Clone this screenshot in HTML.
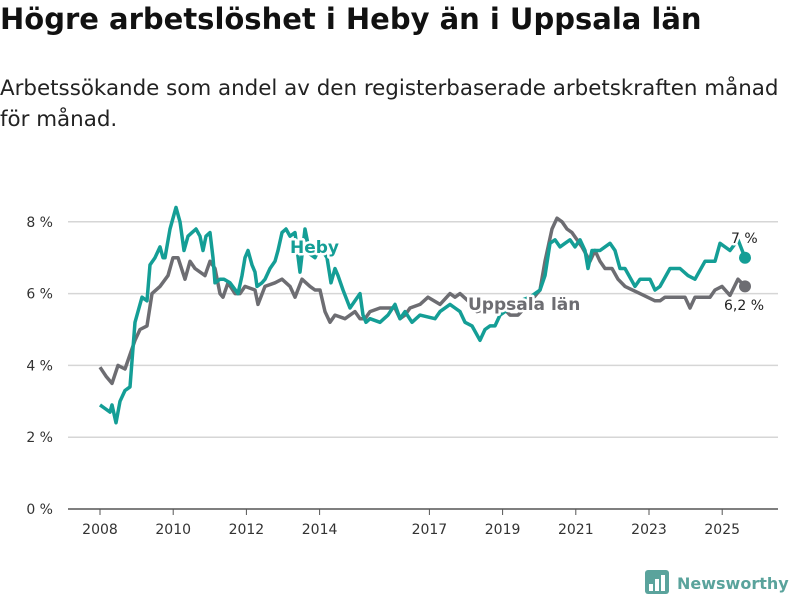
<!DOCTYPE html>
<html><head><meta charset="utf-8"><style>
body{margin:0;width:800px;height:600px;background:#fff;font-family:"DejaVu Sans","Liberation Sans",sans-serif;overflow:hidden}
h1{position:absolute;left:0;top:2px;margin:0;font-size:29px;font-weight:bold;color:#111;white-space:nowrap}
p{position:absolute;left:0;top:73px;margin:0;font-size:21.4px;line-height:31px;color:#222;width:800px;white-space:nowrap}
svg{position:absolute;left:0;top:0}
text{font-family:"DejaVu Sans","Liberation Sans",sans-serif}
</style></head><body>
<h1>Högre arbetslöshet i Heby än i Uppsala län</h1>
<p>Arbetssökande som andel av den registerbaserade arbetskraften månad<br>för månad.</p>
<svg id="chart" width="800" height="600"></svg>
<script>
const hebyX=[100,105,110,112,116,120,125,130,135,142,147,150,155,160,163,165,170,176,180,184,188,192,196,200,203,206,210,213,215,220,224,230,238,242,245,248,252,255,257,262,265,270,275,278,282,286,290,295,300,305,310,315,320,327,331,335,338,343,350,355,360,363,366,370,380,388,395,400,405,412,420,435,440,450,455,460,465,472,480,485,490,495,500,505,512,520,530,540,545,550,555,560,565,570,575,580,585,588,592,600,610,615,620,625,635,640,650,655,660,670,680,688,695,705,715,720,730,738,745];
const hebyV=[2.9,2.8,2.7,2.9,2.4,3.0,3.3,3.4,5.2,5.9,5.8,6.8,7.0,7.3,7.0,7.0,7.8,8.4,8.0,7.2,7.6,7.7,7.8,7.6,7.2,7.6,7.7,7.0,6.3,6.4,6.4,6.3,6.0,6.5,7.0,7.2,6.8,6.6,6.2,6.3,6.4,6.7,6.9,7.2,7.7,7.8,7.6,7.7,6.6,7.8,7.1,7.0,7.3,7.0,6.3,6.7,6.5,6.1,5.6,5.8,6.0,5.4,5.2,5.3,5.2,5.4,5.7,5.3,5.5,5.2,5.4,5.3,5.5,5.7,5.6,5.5,5.2,5.1,4.7,5.0,5.1,5.1,5.4,5.5,5.6,5.8,5.9,6.1,6.5,7.4,7.5,7.3,7.4,7.5,7.3,7.5,7.2,6.7,7.2,7.2,7.4,7.2,6.7,6.7,6.2,6.4,6.4,6.1,6.2,6.7,6.7,6.5,6.4,6.9,6.9,7.4,7.2,7.5,7.0];
const uppX=[100,106,112,118,125,130,135,140,147,152,160,168,173,178,185,190,195,205,210,215,220,223,228,235,240,245,255,258,265,275,282,290,295,302,310,315,320,325,330,335,345,355,360,365,370,380,395,400,405,410,420,428,440,450,455,460,468,477,490,500,510,518,528,540,545,552,557,562,567,572,577,582,590,595,600,605,612,618,625,640,655,660,665,675,685,690,695,710,715,722,730,738,745];
const uppV=[3.95,3.7,3.5,4.0,3.9,4.3,4.7,5.0,5.1,6.0,6.2,6.5,7.0,7.0,6.4,6.9,6.7,6.5,6.9,6.7,6.0,5.9,6.3,6.0,6.0,6.2,6.1,5.7,6.2,6.3,6.4,6.2,5.9,6.4,6.2,6.1,6.1,5.5,5.2,5.4,5.3,5.5,5.3,5.3,5.5,5.6,5.6,5.3,5.4,5.6,5.7,5.9,5.7,6.0,5.9,6.0,5.8,5.5,5.6,5.7,5.4,5.4,5.7,6.1,6.9,7.8,8.1,8.0,7.8,7.7,7.5,7.3,6.9,7.2,6.9,6.7,6.7,6.4,6.2,6.0,5.8,5.8,5.9,5.9,5.9,5.6,5.9,5.9,6.1,6.2,5.95,6.4,6.2];
const yTicks=[0,2,4,6,8];
const yTickLabels=["0 %","2 %","4 %","6 %","8 %"];
const xTicks=[2008,2010,2012,2014,2017,2019,2021,2023,2025];
const NS="http://www.w3.org/2000/svg";
const svg=document.getElementById('chart');
const y=v=>509-v*35.9;
const xy=yr=>100+(yr-2008)*36.6;
function mk(t,a){const e=document.createElementNS(NS,t);for(const k in a)e.setAttribute(k,a[k]);svg.appendChild(e);return e;}
yTicks.forEach((t,i)=>{
 const l=mk('line',{x1:68,x2:778,y1:y(t),y2:y(t),stroke:t===0?'#555':'#d6d6d6','stroke-width':1.5});
 
 const tx=mk('text',{x:53,y:y(t)+5,'text-anchor':'end','font-size':14,fill:'#333'});tx.textContent=yTickLabels[i];
 
});
xTicks.forEach(t=>{
 const l=mk('line',{x1:xy(t),x2:xy(t),y1:509,y2:515,stroke:'#555','stroke-width':1});
 
 const tx=mk('text',{x:xy(t),y:534,'text-anchor':'middle','font-size':14,fill:'#333'});tx.textContent=t;
 
});
function line(xs,vs,c,name){
 const d=xs.map((x,i)=>(i?'L':'M')+x+','+y(vs[i]).toFixed(1)).join('');
 const p=mk('path',{d:d,fill:'none',stroke:c,'stroke-width':3.5,'stroke-linejoin':'round'});
 
 const dot=mk('circle',{cx:xs[xs.length-1],cy:y(vs[vs.length-1]),r:6,fill:c});
 
}
line(uppX,uppV,'#6d6d72','uppsala-line');
line(hebyX,hebyV,'#149e96','heby-line');
function lab(x,yy,t,c,w,name,sz){
 const e=mk('text',{x:x,y:yy,'font-size':sz,'font-weight':w,fill:c,stroke:'#fff','stroke-width':5,'paint-order':'stroke','stroke-linejoin':'round'});e.textContent=t;
 
}
lab(290,253,'Heby','#149e96','bold','heby-label',17);
lab(468,310,'Uppsala län','#6d6d72','bold','uppsala-label',17);
lab(731,243,'7 %','#222','normal','heby-value-label',14);
lab(724,310,'6,2 %','#222','normal','uppsala-value-label',14);
const g=mk('g',{});
mk('rect',{x:645,y:570,width:24,height:24,rx:3,fill:'#5aa39c'});
[[649,584,4,7],[655,579,4,12],[661,575,4,16]].forEach(r=>mk('rect',{x:r[0],y:r[1],width:r[2],height:r[3],fill:'#fff'}));
const lt=mk('text',{x:677,y:589,'font-size':16,'font-weight':'bold',fill:'#5aa39c'});lt.textContent='Newsworthy';

</script>
</body></html>
